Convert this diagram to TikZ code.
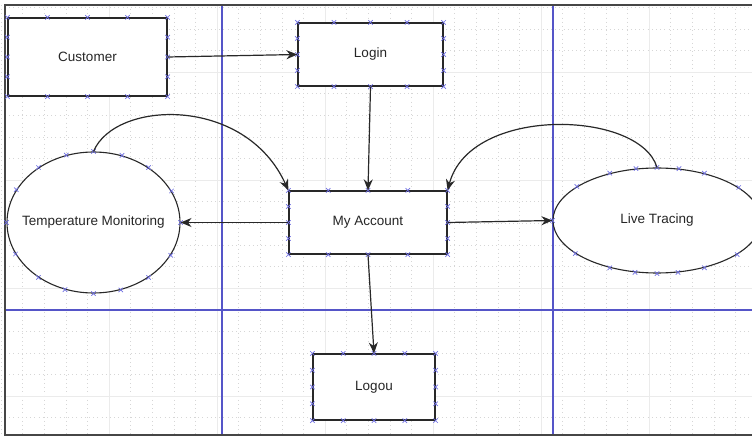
\documentclass[tikz,border=0pt]{standalone}
\usepackage{fontspec}
\setmainfont{Liberation Sans}
\usetikzlibrary{arrows.meta,shapes.geometric,calc}
\definecolor{pageblue}{RGB}{85,85,200}
\definecolor{markc}{RGB}{110,110,225}
\definecolor{linec}{RGB}{40,40,40}
\tikzset{
  griddot/.style={gray!32,line width=0.5pt,dash pattern=on 1pt off 3.2pt},
  gridsolid/.style={gray!16,line width=0.7pt},
  pagel/.style={pageblue,line width=1.2pt},
  frame/.style={gray!55!black,line width=1.4pt},
  txt/.style={font=\fontsize{13.5}{15}\selectfont,text=black!85},
  boxn/.style={rectangle,draw=linec,line width=1.2pt,fill=white,inner sep=0pt,txt},
  elln/.style={ellipse,draw=linec,line width=1.1pt,fill=white,inner sep=0pt},
  conn/.style={draw=linec,line width=1.2pt,-{Stealth[length=11pt,width=9pt]}},
  xm/.pic={\draw[markc,line width=0.7pt] (-2.2,-2.2)--(2.2,2.2) (-2.2,2.2)--(2.2,-2.2);}
}
\begin{document}
\begin{tikzpicture}[x=1pt,y=-1pt]
\useasboundingbox (0,0) rectangle (752,438);
\fill[white] (0,0) rectangle (752,438);
% grid
\foreach \k in {0,...,34} {\draw[griddot] ({1+21.6*\k},5) -- ({1+21.6*\k},435);}
\foreach \k in {0,...,19} {\draw[griddot] (5,{7.2+21.6*\k}) -- (752,{7.2+21.6*\k});}
\foreach \k in {0,...,5} {\draw[gridsolid] ({109+108*\k},5) -- ({109+108*\k},435);}
\foreach \k in {0,...,3} {\draw[gridsolid] (5,{72+108*\k}) -- (752,{72+108*\k});}
% page lines
\draw[pagel] (222,5) -- (222,435);
\draw[pagel] (553,5) -- (553,435);
\draw[pagel] (5,310) -- (752,310);
% frame
\draw[frame] (5,5) -- (752,5);
\draw[frame,line width=2.6pt] (5,4) -- (5,436);
\draw[frame,line width=2.2pt] (4,435) -- (752,435);
% nodes
\node[boxn,minimum width=159pt,minimum height=78pt] (cust) at (87.5,57) {Customer};
\node[boxn,minimum width=145pt,minimum height=63pt] (login) at (370.5,54.5) {Login};
\node[boxn,minimum width=158pt,minimum height=63pt] (acct) at (368,222.5) {My Account};
\node[boxn,minimum width=122pt,minimum height=66pt] (logou) at (374,387) {Logou};
\node[elln,minimum width=173pt,minimum height=141pt,label={[txt]center:Temperature Monitoring}] (temp) at (93.5,222.5) {};
\node[elln,minimum width=208pt,minimum height=105pt,label={[txt]center:Live Tracing}] (live) at (657,220.5) {};
% connection markers
\foreach \n in {cust,login,acct,logou} {
  \foreach \t in {0,0.25,0.5,0.75,1} {
    \pic at ($(\n.north west)!\t!(\n.north east)$) {xm};
    \pic at ($(\n.south west)!\t!(\n.south east)$) {xm};
  }
  \foreach \t in {0.25,0.5,0.75} {
    \pic at ($(\n.north west)!\t!(\n.south west)$) {xm};
    \pic at ($(\n.north east)!\t!(\n.south east)$) {xm};
  }
}
\foreach \n in {temp,live} {
  \foreach \a in {0,22.5,...,337.5} {\pic at (\n.\a) {xm};}
}
% connectors
\draw[conn] (cust.east) -- (login.west);
\draw[conn] (login.south) -- (acct.north);
\draw[conn] (acct.west) -- (temp.east);
\draw[conn] (acct.east) -- (live.west);
\draw[conn] (acct.south) -- (logou.north);
\draw[conn] (temp.north) .. controls (115,100) and (245,95) .. (acct.north west);
\draw[conn] (live.north) .. controls (640,110) and (470,105) .. (acct.north east);
\end{tikzpicture}
\end{document}
